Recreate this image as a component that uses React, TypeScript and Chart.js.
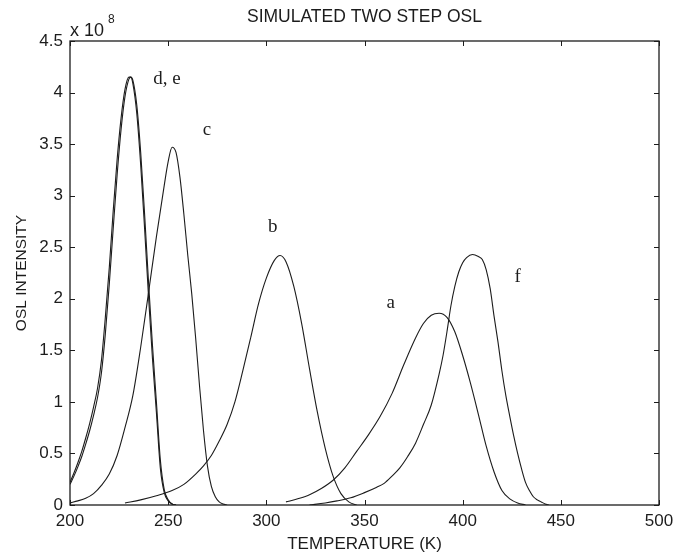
import React, { useEffect, useRef } from "react";
import { Chart, registerables } from "chart.js";

Chart.register(...registerables);

// Temperature (K) and OSL intensity (x 10^8) for each simulated curve
const dTemps = [200, 202, 204, 206, 208, 210, 212, 214, 216, 218, 220, 222, 224, 226, 228, 230, 231, 232, 234, 236, 238, 240, 242, 244, 246, 248, 250, 252, 254];
const dValues = [0.22, 0.31, 0.41, 0.52, 0.65, 0.79, 0.95, 1.13, 1.40, 1.82, 2.30, 2.85, 3.35, 3.75, 4.03, 4.15, 4.15, 4.09, 3.80, 3.30, 2.68, 2.02, 1.42, 0.90, 0.36, 0.12, 0.04, 0.01, 0];

const eTemps = [200, 202, 204, 206, 208, 210, 212, 214, 216, 218, 220, 222, 224, 226, 228, 230, 231, 232, 234, 236, 238, 240, 242, 244, 246, 248, 250, 252, 254];
const eValues = [0.20, 0.28, 0.37, 0.47, 0.59, 0.72, 0.87, 1.04, 1.28, 1.66, 2.14, 2.68, 3.20, 3.64, 3.96, 4.13, 4.15, 4.12, 3.88, 3.42, 2.82, 2.16, 1.55, 1.00, 0.44, 0.15, 0.05, 0.01, 0];

const cTemps = [200, 204, 208, 212, 216, 220, 224, 228, 232, 236, 240, 244, 248, 250, 252, 254, 256, 258, 260, 262, 264, 266, 268, 270, 272, 274, 276, 278, 280];
const cValues = [0.02, 0.04, 0.065, 0.11, 0.19, 0.30, 0.48, 0.75, 1.06, 1.53, 2.06, 2.60, 3.10, 3.33, 3.47, 3.42, 3.18, 2.82, 2.42, 2.05, 1.62, 1.15, 0.72, 0.38, 0.18, 0.08, 0.03, 0.01, 0];

const bTemps = [228, 236, 244, 252, 258, 264, 268, 272, 276, 280, 284, 288, 292, 296, 300, 304, 307, 310, 314, 318, 322, 326, 330, 334, 338, 342, 346];
const bValues = [0.02, 0.05, 0.09, 0.14, 0.20, 0.30, 0.38, 0.48, 0.62, 0.78, 1.00, 1.30, 1.62, 1.95, 2.20, 2.37, 2.42, 2.36, 2.12, 1.76, 1.32, 0.90, 0.55, 0.28, 0.11, 0.03, 0];

const aTemps = [310, 316, 322, 328, 334, 340, 346, 352, 358, 364, 370, 376, 380, 384, 388, 392, 396, 400, 404, 408, 412, 416, 420, 424, 428, 432];
const aValues = [0.03, 0.06, 0.10, 0.16, 0.24, 0.36, 0.52, 0.68, 0.86, 1.08, 1.36, 1.62, 1.76, 1.84, 1.86, 1.82, 1.68, 1.45, 1.18, 0.88, 0.57, 0.32, 0.14, 0.06, 0.02, 0];

const fTemps = [322, 330, 336, 343, 350, 356, 360, 364, 368, 372, 376, 380, 384, 388, 390, 392, 394, 396, 398, 400, 402, 405, 408, 410, 412, 414, 416, 418, 420, 422, 424, 426, 428, 430, 432, 434, 436, 438, 440, 442, 444];
const fValues = [0, 0.02, 0.04, 0.07, 0.12, 0.17, 0.21, 0.28, 0.36, 0.47, 0.60, 0.78, 0.97, 1.27, 1.45, 1.68, 1.93, 2.12, 2.26, 2.35, 2.40, 2.43, 2.41, 2.38, 2.28, 2.10, 1.83, 1.58, 1.30, 1.06, 0.86, 0.67, 0.50, 0.35, 0.22, 0.14, 0.08, 0.05, 0.03, 0.01, 0];

// Curve annotations (text, temperature, intensity)
const curveLabels = ["d, e", "c", "b", "a", "f"];
const curveLabelTemps = [249.4, 269.7, 303.3, 363.4, 428];
const curveLabelValues = [4.13, 3.64, 2.7, 1.96, 2.21];

const xTicks = [200, 250, 300, 350, 400, 450, 500];
const yTicks = [0, 0.5, 1, 1.5, 2, 2.5, 3, 3.5, 4, 4.5];

const TITLE = "SIMULATED TWO STEP OSL";
const X_TITLE = "TEMPERATURE (K)";
const Y_TITLE = "OSL INTENSITY";

const INK = "#1c1c1c";
const SANS = "'Liberation Sans', Arial, sans-serif";
const SERIF = "'Liberation Serif', 'Times New Roman', serif";

const toPoints = (xs: number[], ys: number[]) => xs.map((x, i) => ({ x, y: ys[i] }));

const decorPlugin = {
  id: "decor",
  afterDraw(chart: any) {
    const { ctx, chartArea: a, scales } = chart;
    const xs = scales.x;
    const ys = scales.y;
    ctx.save();
    // frame
    ctx.strokeStyle = INK;
    ctx.lineWidth = 1.3;
    ctx.strokeRect(a.left, a.top, a.right - a.left, a.bottom - a.top);
    // inward ticks on all four sides
    const tl = 5;
    ctx.lineWidth = 1;
    ctx.beginPath();
    xTicks.forEach((v) => {
      const px = Math.round(xs.getPixelForValue(v)) + 0.5;
      ctx.moveTo(px, a.bottom);
      ctx.lineTo(px, a.bottom - tl);
      ctx.moveTo(px, a.top);
      ctx.lineTo(px, a.top + tl);
    });
    yTicks.forEach((v) => {
      const py = Math.round(ys.getPixelForValue(v)) + 0.5;
      ctx.moveTo(a.left, py);
      ctx.lineTo(a.left + tl, py);
      ctx.moveTo(a.right, py);
      ctx.lineTo(a.right - tl, py);
    });
    ctx.stroke();

    ctx.fillStyle = INK;
    // title
    ctx.font = `17.5px ${SANS}`;
    ctx.textAlign = "center";
    ctx.textBaseline = "middle";
    ctx.fillText(TITLE, (a.left + a.right) / 2, 17);
    // x title
    ctx.font = `17px ${SANS}`;
    ctx.fillText(X_TITLE, (a.left + a.right) / 2, 544);
    // y title
    ctx.save();
    ctx.font = `15.5px ${SANS}`;
    ctx.translate(22, (a.top + a.bottom) / 2);
    ctx.rotate(-Math.PI / 2);
    ctx.fillText(Y_TITLE, 0, 0);
    ctx.restore();
    // exponent
    ctx.textAlign = "left";
    ctx.textBaseline = "alphabetic";
    ctx.font = `18px ${SANS}`;
    ctx.fillText("x 10", a.left, 36);
    ctx.font = `12px ${SANS}`;
    ctx.fillText("8", a.left + 38, 23);
    // curve labels
    ctx.font = `19px ${SERIF}`;
    ctx.textAlign = "center";
    ctx.textBaseline = "middle";
    curveLabels.forEach((t, i) => {
      ctx.fillText(t, xs.getPixelForValue(curveLabelTemps[i]), ys.getPixelForValue(curveLabelValues[i]));
    });
    ctx.restore();
  },
};

export default function App() {
  const ref = useRef<HTMLCanvasElement | null>(null);
  useEffect(() => {
    if (!ref.current) return;
    const series = [
      toPoints(dTemps, dValues),
      toPoints(eTemps, eValues),
      toPoints(cTemps, cValues),
      toPoints(bTemps, bValues),
      toPoints(aTemps, aValues),
      toPoints(fTemps, fValues),
    ];
    const names = ["d", "e", "c", "b", "a", "f"];
    const chart = new Chart(ref.current, {
      type: "line",
      data: {
        datasets: series.map((data, i) => ({
          label: names[i],
          data,
          borderColor: INK,
          borderWidth: 1.1,
          pointRadius: 0,
          fill: false,
          cubicInterpolationMode: "monotone" as const,
        })),
      },
      options: {
        responsive: false,
        animation: false,
        events: [],
        layout: { padding: { left: 0, top: 41, right: 26, bottom: 0 } },
        plugins: { legend: { display: false }, tooltip: { enabled: false }, title: { display: false } },
        scales: {
          x: {
            type: "linear",
            min: 200,
            max: 500,
            afterBuildTicks: (s: any) => {
              s.ticks = xTicks.map((v) => ({ value: v }));
            },
            afterFit: (s: any) => {
              s.height = 52;
            },
            grid: { display: false, drawTicks: false },
            border: { display: false },
            ticks: { color: INK, font: { family: SANS, size: 17 }, padding: 6, maxRotation: 0 },
          },
          y: {
            type: "linear",
            min: 0,
            max: 4.5,
            afterBuildTicks: (s: any) => {
              s.ticks = yTicks.map((v) => ({ value: v }));
            },
            afterFit: (s: any) => {
              s.width = 70;
            },
            grid: { display: false, drawTicks: false },
            border: { display: false },
            ticks: { color: INK, font: { family: SANS, size: 17 }, padding: 7, callback: (v: any) => String(v) },
          },
        },
      },
      plugins: [decorPlugin],
    });
    return () => chart.destroy();
  }, []);
  return (
    <div style={{ position: "absolute", left: 0, top: 0, width: 685, height: 557, background: "#fff" }}>
      <canvas ref={ref} width={685} height={557} style={{ display: "block" }} />
    </div>
  );
}
